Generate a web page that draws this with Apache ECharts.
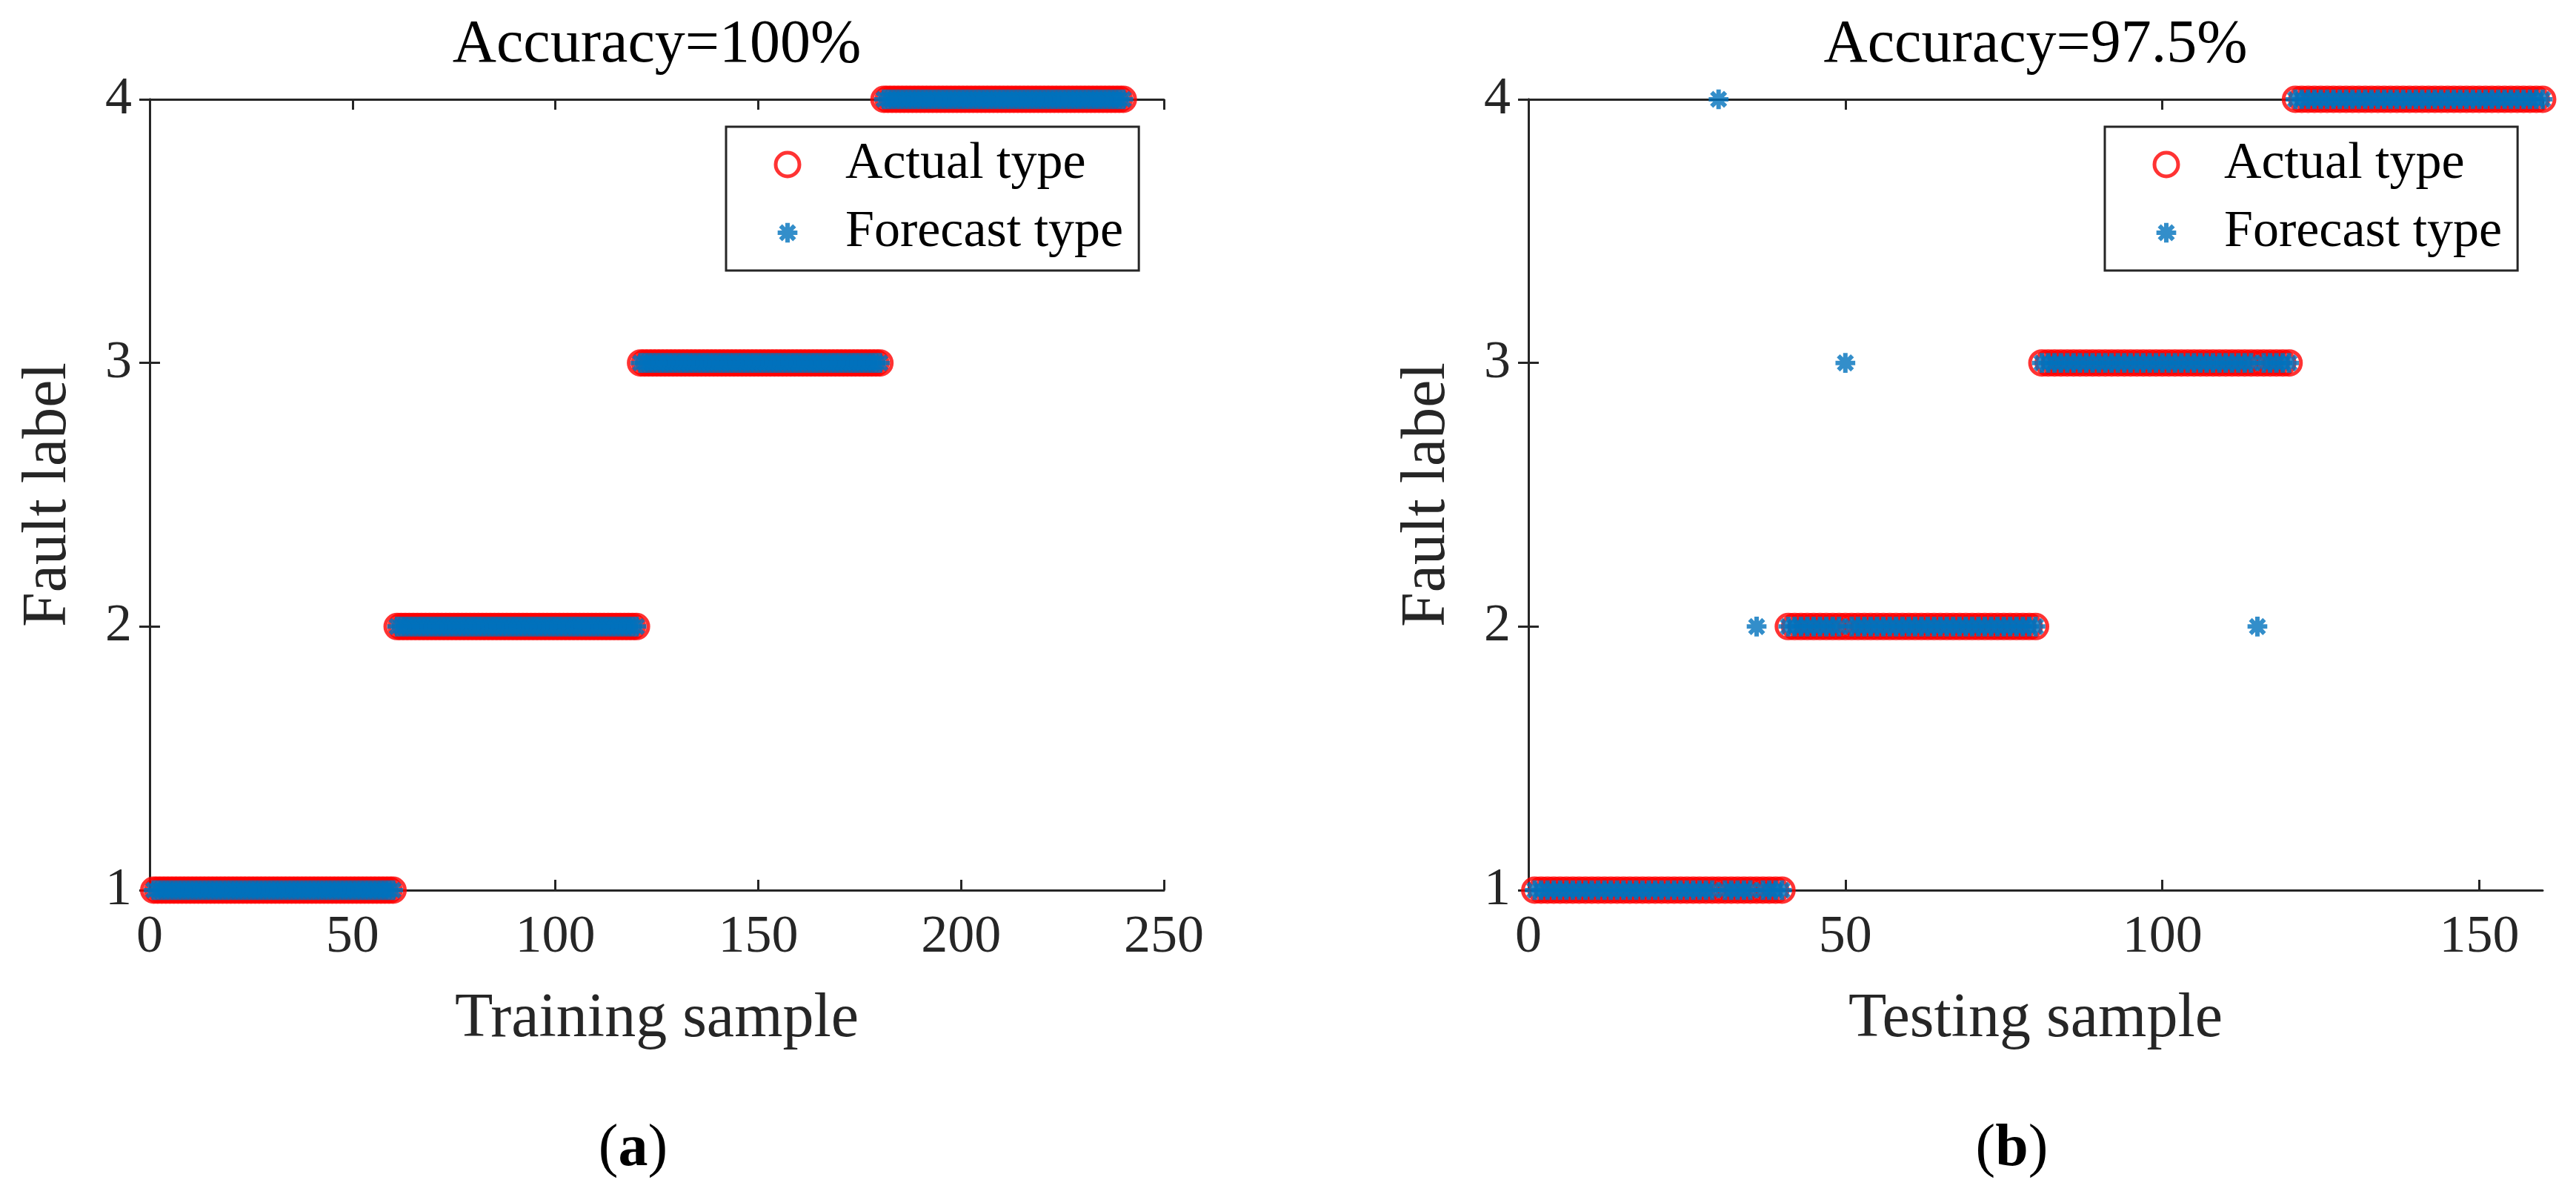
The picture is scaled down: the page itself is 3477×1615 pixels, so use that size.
<!DOCTYPE html>
<html>
<head>
<meta charset="utf-8">
<script src="https://cdn.jsdelivr.net/npm/echarts@6/dist/echarts.min.js"></script>
<style>
html,body{margin:0;padding:0;background:#fff;}
#chart{width:3477px;height:1615px;}
</style>
</head>
<body>
<div id="chart"></div>
<script>
// ---------- DATA ----------
const panelTitles = ['Accuracy=100%', 'Accuracy=97.5%'];
const panelLetters = ['a', 'b'];
const xAxisNames = ['Training sample', 'Testing sample'];
const yAxisName = 'Fault label';
const seriesNames = ['Actual type', 'Forecast type'];
const xMax = [250, 160];
const xTickStep = 50;
const yMin = 1, yMax = 4, yTickStep = 1;

// Training set: samples 1..240
const trainActual = [
1,1,1,1,1,1,1,1,1,1,1,1,1,1,1,1,1,1,1,1,
1,1,1,1,1,1,1,1,1,1,1,1,1,1,1,1,1,1,1,1,
1,1,1,1,1,1,1,1,1,1,1,1,1,1,1,1,1,1,1,1,
2,2,2,2,2,2,2,2,2,2,2,2,2,2,2,2,2,2,2,2,
2,2,2,2,2,2,2,2,2,2,2,2,2,2,2,2,2,2,2,2,
2,2,2,2,2,2,2,2,2,2,2,2,2,2,2,2,2,2,2,2,
3,3,3,3,3,3,3,3,3,3,3,3,3,3,3,3,3,3,3,3,
3,3,3,3,3,3,3,3,3,3,3,3,3,3,3,3,3,3,3,3,
3,3,3,3,3,3,3,3,3,3,3,3,3,3,3,3,3,3,3,3,
4,4,4,4,4,4,4,4,4,4,4,4,4,4,4,4,4,4,4,4,
4,4,4,4,4,4,4,4,4,4,4,4,4,4,4,4,4,4,4,4,
4,4,4,4,4,4,4,4,4,4,4,4,4,4,4,4,4,4,4,4
];
const trainForecast = [
1,1,1,1,1,1,1,1,1,1,1,1,1,1,1,1,1,1,1,1,
1,1,1,1,1,1,1,1,1,1,1,1,1,1,1,1,1,1,1,1,
1,1,1,1,1,1,1,1,1,1,1,1,1,1,1,1,1,1,1,1,
2,2,2,2,2,2,2,2,2,2,2,2,2,2,2,2,2,2,2,2,
2,2,2,2,2,2,2,2,2,2,2,2,2,2,2,2,2,2,2,2,
2,2,2,2,2,2,2,2,2,2,2,2,2,2,2,2,2,2,2,2,
3,3,3,3,3,3,3,3,3,3,3,3,3,3,3,3,3,3,3,3,
3,3,3,3,3,3,3,3,3,3,3,3,3,3,3,3,3,3,3,3,
3,3,3,3,3,3,3,3,3,3,3,3,3,3,3,3,3,3,3,3,
4,4,4,4,4,4,4,4,4,4,4,4,4,4,4,4,4,4,4,4,
4,4,4,4,4,4,4,4,4,4,4,4,4,4,4,4,4,4,4,4,
4,4,4,4,4,4,4,4,4,4,4,4,4,4,4,4,4,4,4,4
];

// Testing set: samples 1..160
const testActual = [
1,1,1,1,1,1,1,1,1,1,1,1,1,1,1,1,1,1,1,1,
1,1,1,1,1,1,1,1,1,1,1,1,1,1,1,1,1,1,1,1,
2,2,2,2,2,2,2,2,2,2,2,2,2,2,2,2,2,2,2,2,
2,2,2,2,2,2,2,2,2,2,2,2,2,2,2,2,2,2,2,2,
3,3,3,3,3,3,3,3,3,3,3,3,3,3,3,3,3,3,3,3,
3,3,3,3,3,3,3,3,3,3,3,3,3,3,3,3,3,3,3,3,
4,4,4,4,4,4,4,4,4,4,4,4,4,4,4,4,4,4,4,4,
4,4,4,4,4,4,4,4,4,4,4,4,4,4,4,4,4,4,4,4
];
const testForecast = [
1,1,1,1,1,1,1,1,1,1,1,1,1,1,1,1,1,1,1,1,
1,1,1,1,1,1,1,1,1,4,1,1,1,1,1,2,1,1,1,1,
2,2,2,2,2,2,2,2,2,3,2,2,2,2,2,2,2,2,2,2,
2,2,2,2,2,2,2,2,2,2,2,2,2,2,2,2,2,2,2,2,
3,3,3,3,3,3,3,3,3,3,3,3,3,3,3,3,3,3,3,3,
3,3,3,3,3,3,3,3,3,3,3,3,3,3,2,3,3,3,3,3,
4,4,4,4,4,4,4,4,4,4,4,4,4,4,4,4,4,4,4,4,
4,4,4,4,4,4,4,4,4,4,4,4,4,4,4,4,4,4,4,4
];

// ---------- STYLE / LAYOUT ----------
const FONT = "'Liberation Serif', 'Times New Roman', serif";
const TXT = '#262626';
const RED = '#FF0000';
const BLUE = '#0072BD';
const grids = [
  {left: 202, top: 134, width: 1369, height: 1067},
  {left: 2063, top: 134, width: 1369, height: 1067}
];
const legendLeft = [980, 2841];
const ASTER = 'path://M-12,-12M12,12M0,-10L0,10M-10,0L10,0M-7.07,-7.07L7.07,7.07M-7.07,7.07L7.07,-7.07';
const circleStyle = {color: 'rgba(255,255,255,0)', borderColor: RED, borderWidth: 5};
const asterStyle = {color: 'rgba(0,0,0,0)', borderColor: BLUE, borderWidth: 6};

const toPts = arr => arr.map((v, i) => [i + 1, v]);
const actualSets = [trainActual, testActual];
const forecastSets = [trainForecast, testForecast];

const axisLineStyle = {show: true, lineStyle: {color: TXT, width: 3}};
const tickStyle = {show: true, inside: true, length: 14, lineStyle: {color: TXT, width: 3}};

const xAxes = [], yAxes = [], series = [], titles = [], legends = [];
for (let p = 0; p < 2; p++) {
  const g = grids[p];
  const cx = g.left + g.width / 2;
  xAxes.push({
    type: 'value', gridIndex: p, position: 'bottom', min: 0, max: xMax[p], interval: xTickStep,
    axisLine: axisLineStyle, axisTick: tickStyle, splitLine: {show: false},
    axisLabel: {show: true, margin: 28, color: TXT, fontFamily: FONT, fontSize: 72, showMaxLabel: xMax[p] % xTickStep === 0},
    name: xAxisNames[p], nameLocation: 'middle', nameGap: 133,
    nameTextStyle: {color: TXT, fontFamily: FONT, fontSize: 84}
  });
  xAxes.push({
    type: 'value', gridIndex: p, position: 'top', min: 0, max: xMax[p], interval: xTickStep,
    axisLine: axisLineStyle, axisTick: tickStyle, splitLine: {show: false}, axisLabel: {show: false}
  });
  yAxes.push({
    type: 'value', gridIndex: p, position: 'left', min: yMin, max: yMax, interval: yTickStep,
    axisLine: axisLineStyle, axisTick: tickStyle, splitLine: {show: false},
    axisLabel: {show: true, margin: 24, color: TXT, fontFamily: FONT, fontSize: 72},
    name: yAxisName, nameLocation: 'middle', nameGap: 94,
    nameTextStyle: {color: TXT, fontFamily: FONT, fontSize: 84}
  });
  yAxes.push({
    type: 'value', gridIndex: p, position: 'right', min: yMin, max: yMax, interval: yTickStep,
    axisLine: axisLineStyle, axisTick: tickStyle, splitLine: {show: false}, axisLabel: {show: false}
  });
  series.push({
    name: seriesNames[0], type: 'scatter', xAxisIndex: 2 * p, yAxisIndex: 2 * p,
    data: toPts(actualSets[p]), symbol: 'circle', symbolSize: 32, clip: false,
    itemStyle: circleStyle, emphasis: {disabled: true}, z: 2
  });
  series.push({
    name: seriesNames[1], type: 'scatter', xAxisIndex: 2 * p, yAxisIndex: 2 * p,
    data: toPts(forecastSets[p]), symbol: ASTER, symbolSize: 32, clip: false,
    itemStyle: asterStyle, emphasis: {disabled: true}, z: 3
  });
  titles.push({
    text: panelTitles[p], left: cx, top: 61, textAlign: 'center', textVerticalAlign: 'middle', padding: 0,
    textStyle: {color: '#000', fontFamily: FONT, fontSize: 82, fontWeight: 'normal'}
  });
  titles.push({
    text: '(' + '{b|' + panelLetters[p] + '})', left: cx - 32, top: 1551, textAlign: 'center', textVerticalAlign: 'middle', padding: 0,
    textStyle: {color: '#000', fontFamily: FONT, fontSize: 80, fontWeight: 'normal',
      rich: {b: {fontFamily: FONT, fontSize: 80, fontWeight: 'bold', color: '#000'}}}
  });
  legends.push({
    data: [
      {name: seriesNames[0], icon: 'circle', itemStyle: {color: 'rgba(255,255,255,0)', borderColor: RED, borderWidth: 5}},
      {name: seriesNames[1], icon: ASTER, itemStyle: {color: 'rgba(0,0,0,0)', borderColor: BLUE, borderWidth: 6}}
    ],
    orient: 'vertical', left: legendLeft[p], top: 171,
    padding: [16, 21, 16, 64], itemGap: 22, itemWidth: 32, itemHeight: 32,
    backgroundColor: '#fff', borderColor: TXT, borderWidth: 3, borderRadius: 0,
    selectedMode: false,
    textStyle: {color: '#000', fontFamily: FONT, fontSize: 70, lineHeight: 70, padding: [0, 0, 0, 57]}
  });
}

const chart = echarts.init(document.getElementById('chart'), null, {renderer: 'canvas'});
chart.setOption({
  backgroundColor: '#fff',
  animation: false,
  title: titles,
  legend: legends,
  grid: grids,
  xAxis: xAxes,
  yAxis: yAxes,
  series: series
});
</script>
</body>
</html>
